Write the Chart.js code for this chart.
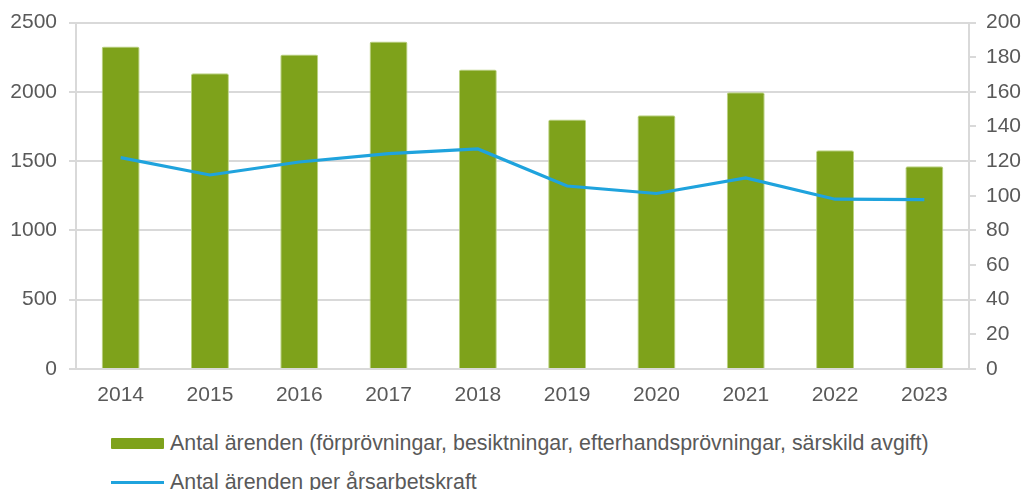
<!DOCTYPE html>
<html>
<head>
<meta charset="utf-8">
<script src="https://cdn.jsdelivr.net/npm/chart.js@4"></script>
<style>
  body { margin: 0; background: #fff; font-family: "Liberation Sans", Arial, sans-serif; }
  #wrap { position: relative; width: 1024px; height: 490px; }
  #chart { position: absolute; left: 0; top: 0; }
  .legend { position: absolute; left: 111px; color: #595959; font-size: 21.4px; }
  .item { position: absolute; left: 0; white-space: nowrap; height: 24px; line-height: 24px; }
  .mark { position: absolute; left: 0; width: 53px; }
  .item span.txt { position: absolute; left: 59px; top: 0; }
</style>
</head>
<body>
<div id="wrap">
  <canvas id="chart" width="1024" height="420"></canvas>
  <div class="legend" id="legend"></div>
</div>
<script>
const years = ['2014', '2015', '2016', '2017', '2018', '2019', '2020', '2021', '2022', '2023'];
const arenden = [2327, 2133, 2269, 2363, 2161, 1801, 1830, 1996, 1578, 1463];
const perArsarbetskraft = [122, 112, 119.5, 124.3, 127, 105.6, 101.3, 110.3, 98, 97.8];
const leftTicks = [0, 500, 1000, 1500, 2000, 2500];
const rightTicks = [0, 20, 40, 60, 80, 100, 120, 140, 160, 180, 200];

const barLabel = 'Antal ärenden (förprövningar, besiktningar, efterhandsprövningar, särskild avgift)';
const lineLabel = 'Antal ärenden per årsarbetskraft';

const green = '#7ea21b';
const blue = '#1fa3dd';
const textCol = '#595959';
const gridCol = '#d9d9d9';
const font = { family: '"Liberation Sans", Arial, sans-serif', size: 21, lineHeight: 1 };

const chart = new Chart(document.getElementById('chart'), {
  data: {
    labels: years,
    datasets: [
      {
        type: 'line',
        label: lineLabel,
        data: perArsarbetskraft,
        yAxisID: 'y1',
        borderColor: blue,
        borderWidth: 3.2,
        pointRadius: 0,
        tension: 0,
        order: 0
      },
      {
        type: 'bar',
        label: barLabel,
        data: arenden,
        yAxisID: 'y',
        backgroundColor: green,
        borderColor: '#bcd383',
        borderWidth: { left: 1, right: 1, top: 1, bottom: 0 },
        borderRadius: { topLeft: 2, topRight: 2 },
        borderSkipped: 'bottom',
        barPercentage: 0.425,
        categoryPercentage: 1,
        order: 1
      }
    ]
  },
  options: {
    responsive: false,
    animation: false,
    layout: { padding: { top: 22, left: 0, right: 0, bottom: 0 } },
    plugins: { legend: { display: false }, tooltip: { enabled: false } },
    scales: {
      x: {
        grid: { display: false },
        border: { display: false },
        ticks: { color: textCol, font: font, padding: 8, maxRotation: 0 },
        afterFit: s => { s.height = 51; }
      },
      y: {
        position: 'left',
        min: 0, max: 2500,
        afterBuildTicks: s => { s.ticks = leftTicks.map(v => ({ value: v })); },
        grid: { color: gridCol, lineWidth: 2, tickLength: 7, tickColor: gridCol },
        border: { color: gridCol, width: 2 },
        ticks: { color: textCol, font: font, padding: 12, callback: v => String(v) },
        afterFit: s => { s.width = 76; }
      },
      y1: {
        position: 'right',
        min: 0, max: 200,
        afterBuildTicks: s => { s.ticks = rightTicks.map(v => ({ value: v })); },
        grid: { drawOnChartArea: false, color: gridCol, lineWidth: 2, tickLength: 7 },
        border: { color: gridCol, width: 2 },
        ticks: { color: textCol, font: font, padding: 10, callback: v => String(v) },
        afterFit: s => { s.width = 55; }
      }
    }
  }
});

// legend below the chart, one row per dataset
const legendEl = document.getElementById('legend');
const rows = [
  { ds: chart.data.datasets[1], top: 431 },
  { ds: chart.data.datasets[0], top: 470 }
];
rows.forEach(r => {
  const item = document.createElement('div');
  item.className = 'item';
  item.style.top = r.top + 'px';
  const mark = document.createElement('div');
  mark.className = 'mark';
  if (r.ds.type === 'bar') {
    mark.style.top = '7px';
    mark.style.height = '11px';
    mark.style.background = r.ds.backgroundColor;
    mark.style.borderRadius = '1px';
  } else {
    mark.style.top = '11px';
    mark.style.height = '3px';
    mark.style.background = r.ds.borderColor;
  }
  const txt = document.createElement('span');
  txt.className = 'txt';
  txt.textContent = r.ds.label;
  item.appendChild(mark);
  item.appendChild(txt);
  legendEl.appendChild(item);
});
</script>
</body>
</html>
